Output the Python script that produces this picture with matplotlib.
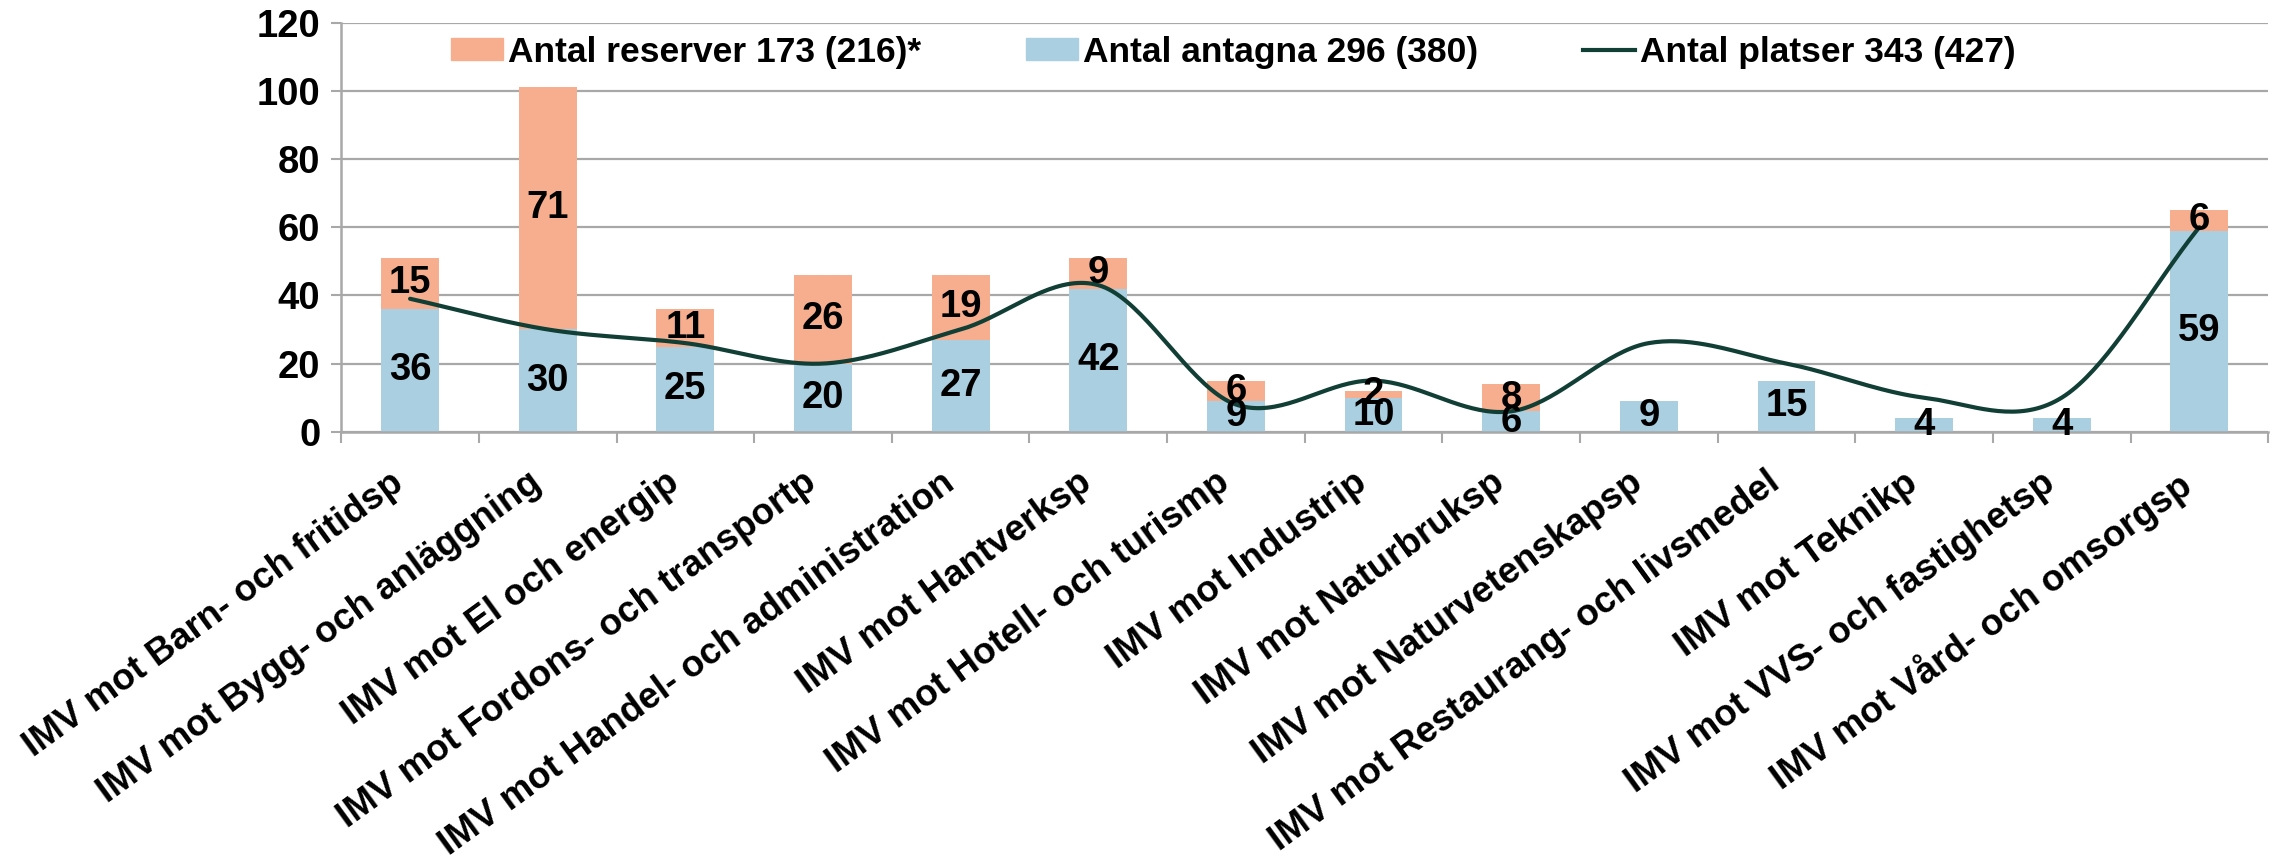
import matplotlib.pyplot as plt
import numpy as np
from matplotlib.patches import Patch
from matplotlib.lines import Line2D

plt.rcParams['font.family'] = ['Liberation Sans', 'DejaVu Sans']
plt.rcParams['font.weight'] = 'bold'

kategorier = ['IMV mot Barn- och fritidsp', 'IMV mot Bygg- och anläggning',
              'IMV mot El och energip', 'IMV mot Fordons- och transportp',
              'IMV mot Handel- och administration', 'IMV mot Hantverksp',
              'IMV mot Hotell- och turismp', 'IMV mot Industrip',
              'IMV mot Naturbruksp', 'IMV mot Naturvetenskapsp',
              'IMV mot Restaurang- och livsmedel', 'IMV mot Teknikp',
              'IMV mot VVS- och fastighetsp', 'IMV mot Vård- och omsorgsp']
antagna = [36, 30, 25, 20, 27, 42, 9, 10, 6, 9, 15, 4, 4, 59]
reserver = [15, 71, 11, 26, 19, 9, 6, 2, 8, 0, 0, 0, 0, 6]
platser = [39, 30, 26, 20, 30, 43, 8, 15, 6, 26, 20, 10, 10, 60]
y_ticks = [0, 20, 40, 60, 80, 100, 120]
legend_labels = ['Antal reserver 173 (216)*', 'Antal antagna 296 (380)', 'Antal platser 343 (427)']

blue = '#A9CFE0'
salmon = '#F6AE8F'
green = '#113F35'
grid = '#A8A8A8'


def smooth(x, y, n=40):
    # utjämnad linje som i Excel (Catmull-Rom)
    x = np.asarray(x, float)
    y = np.asarray(y, float)
    m = np.zeros_like(y)
    m[1:-1] = (y[2:] - y[:-2]) / 2
    m[0] = y[1] - y[0]
    m[-1] = y[-1] - y[-2]
    xs, ys = [], []
    for i in range(len(y) - 1):
        t = np.linspace(0, 1, n)
        h00 = 2 * t**3 - 3 * t**2 + 1
        h10 = t**3 - 2 * t**2 + t
        h01 = -2 * t**3 + 3 * t**2
        h11 = t**3 - t**2
        xs.append(x[i] + t)
        ys.append(h00 * y[i] + h10 * m[i] + h01 * y[i + 1] + h11 * m[i + 1])
    return np.concatenate(xs), np.concatenate(ys)


fig = plt.figure(figsize=(22.75, 8.67), dpi=100)
ax = fig.add_axes([0.150, 0.502, 0.847, 0.472])

x = np.arange(len(kategorier))
ax.bar(x, antagna, width=0.42, color=blue, zorder=2)
ax.bar(x, reserver, width=0.42, bottom=antagna, color=salmon, zorder=2)
sx, sy = smooth(x, platser)
ax.plot(sx, sy, color=green, lw=3, zorder=3, solid_capstyle='round')

for i in range(len(x)):
    ax.text(x[i], antagna[i] / 2, str(antagna[i]), ha='center', va='center',
            fontsize=27.5, zorder=4)
    if reserver[i]:
        ax.text(x[i], antagna[i] + reserver[i] / 2, str(reserver[i]),
                ha='center', va='center', fontsize=27.5, zorder=4)

ax.set_xlim(-0.5, len(x) - 0.5)
ax.set_ylim(0, 120)
ax.set_yticks(y_ticks)
ax.set_yticklabels([str(v) for v in y_ticks], fontsize=27.5)
ax.yaxis.grid(True, color=grid, lw=1.6, zorder=0)
ax.set_axisbelow(True)

ax.set_xticks(x)
ax.set_xticklabels(kategorier, rotation=36, ha='right', fontsize=26.5)
ax.set_xticks(np.arange(-0.5, len(x), 1), minor=True)
ax.tick_params(axis='x', which='major', length=0, pad=24)
ax.tick_params(axis='x', which='minor', length=8, width=1.5, color=grid)
ax.tick_params(axis='y', length=7, width=1.5, color=grid, pad=8)

for s in ['top', 'right']:
    ax.spines[s].set_visible(False)
for s in ['left', 'bottom']:
    ax.spines[s].set_color(grid)
    ax.spines[s].set_linewidth(1.8)

handles = [Patch(color=salmon), Patch(color=blue), Line2D([], [], color=green, lw=3)]
fig.legend(handles, legend_labels, ncol=3, loc='center', bbox_to_anchor=(0.542, 0.940),
           frameon=False, prop={'weight': 'bold', 'size': 25.5}, handlelength=1.47,
           handleheight=0.6, handletextpad=0.15, columnspacing=2.95,
           borderaxespad=0, borderpad=0)

fig.savefig('out.png', dpi=100)
